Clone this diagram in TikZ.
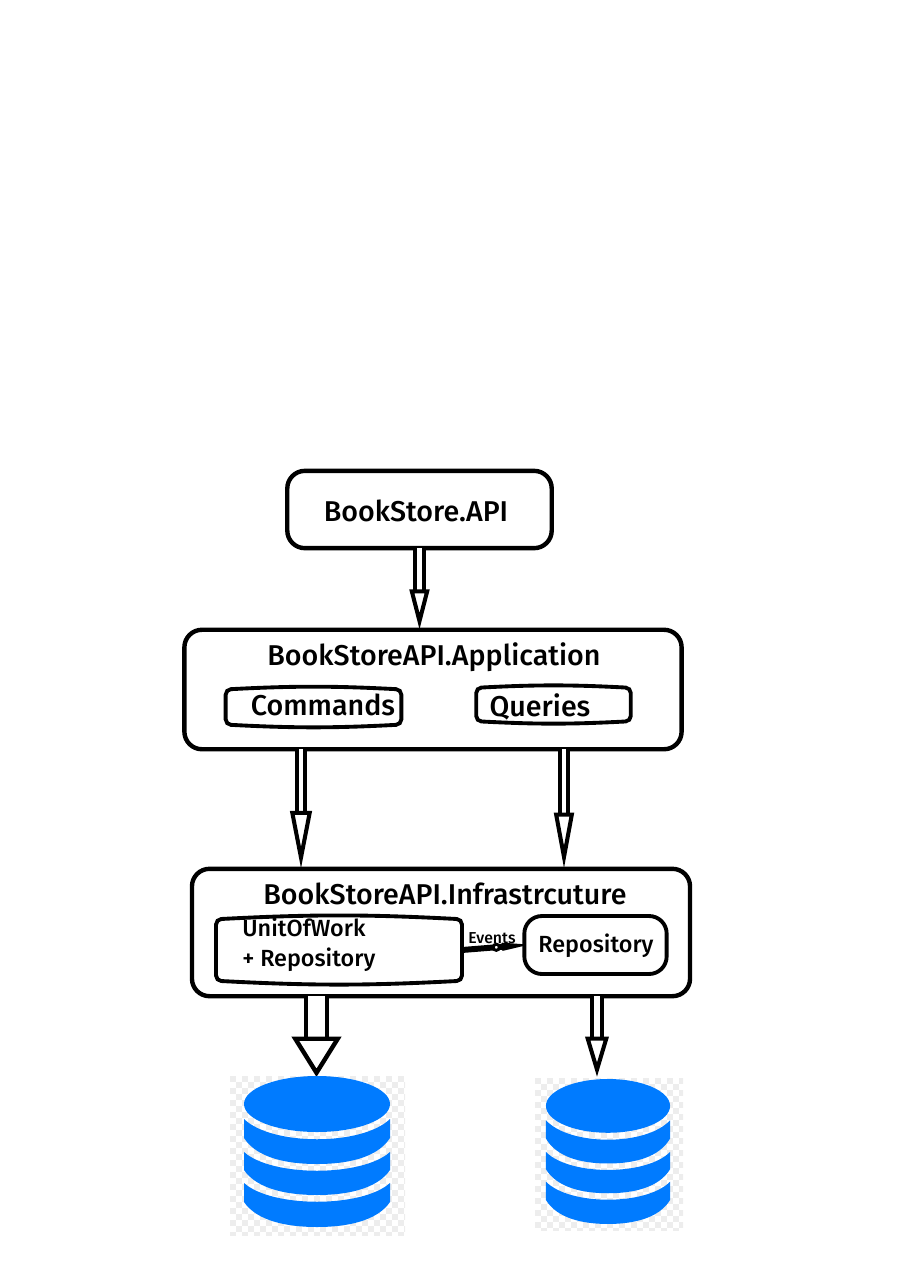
\documentclass[tikz,border=0pt]{standalone}
\usepackage{fontspec}
\setmainfont{Fira Sans Medium}
\usetikzlibrary{arrows.meta,calc}
\definecolor{dbblue}{HTML}{007BFF}
\definecolor{dbcheck}{HTML}{EDEDED}
\tikzset{
layerbox/.style={draw,rectangle,rounded corners=10pt,line width=2.5pt,outer sep=0pt},
bulgebox/.style={rectangle,outer sep=0pt,append after command={
[draw,rounded corners=3pt]
([yshift=-#1]\tikzlastnode.north west) to[bend left=3] ([yshift=-#1]\tikzlastnode.north east)
-- ([yshift=#1]\tikzlastnode.south east) to[bend left=3] ([yshift=#1]\tikzlastnode.south west) -- cycle}},
roundbox/.style={draw,rectangle,rounded corners=10pt,line width=2.2pt,outer sep=0pt},
bigtext/.style={inner sep=0pt,font=\fontsize{16.3}{18}\selectfont},
midtext/.style={inner sep=0pt,font=\fontsize{13.3}{15}\selectfont},
hollow/.style={line width=#1,double=white,double distance=#1,line cap=butt},
pics/dbicon/.style={code={
\fill[dbblue] (0,28) ellipse[x radius=73,y radius=28];
\foreach \t/\b/\m/\e in {43/62/70/88,76/94/101/119,107/126/132/151}{
\fill[dbblue] (-73,\t) .. controls (-45,\m) and (45,\m) .. (73,\t) -- (73,\b)
.. controls (60,\e-6) and (30,\e) .. (0,\e) .. controls (-30,\e) and (-60,\e-6) .. (-73,\b) -- cycle;
}
}}
}
\newcommand{\checkbg}[4]{%
\fill[white] (#1,#2) rectangle (#3,#4);
\begin{scope}
\clip (#1,#2) rectangle (#3,#4);
\foreach \i in {0,...,30}{\foreach \j in {0,...,27}{
\pgfmathparse{int(mod(\i+\j,2))}
\ifnum\pgfmathresult=0
\fill[dbcheck] ({#1+\i*6},{#2+\j*6}) rectangle ++(6,6);
\fi
}}
\end{scope}}
\begin{document}
\begin{tikzpicture}[x=.02cm,y=-.02cm]
\useasboundingbox (0,0) rectangle (916,1279);
% boxes
\draw (419.5,509.5) node[layerbox,minimum width=150.5pt,minimum height=44pt] (api) {};
\draw (433,689.5) node[layerbox,minimum width=283pt,minimum height=68pt] (app) {};
\draw (441,932.5) node[layerbox,minimum width=283.5pt,minimum height=72.5pt] (infra) {};
\draw[line width=2.2pt] (313.5,707) node[bulgebox=2pt,minimum width=100pt,minimum height=24pt] (cmd) {};
\draw[line width=2.2pt] (553.5,704.5) node[bulgebox=2pt,minimum width=88pt,minimum height=23pt] (qry) {};
\draw[line width=2.2pt] (339,950) node[bulgebox=3pt,minimum width=140pt,minimum height=41pt] (uow) {};
\draw (595.5,945) node[roundbox,minimum width=81pt,minimum height=33pt] (repo) {};
% texts
\draw (416,511) node[bigtext] (apitext) {BookStore.API};
\draw (434,657) node[bigtext] (apptext) {BookStoreAPI.Application};
\draw (445,894) node[bigtext] (infratext) {BookStoreAPI.Infrastrcuture};
\draw (323,705) node[bigtext] (cmdtext) {Commands};
\draw (540,707) node[bigtext] (qrytext) {Queries};
\draw (242,945) node[midtext,anchor=west,align=left] (uowtext) {UnitOfWork\\[2pt]+ Repository};
\draw (596,946) node[midtext] (repotext) {Repository};
\draw (492,938) node[inner sep=0pt,font=\fontsize{9}{10}\selectfont] (evtext) {Events};
% arrows
\coordinate (cmdout) at (301,0);
\coordinate (qryout) at (564,0);
\coordinate (dbaout) at (316.5,0);
\coordinate (dbbout) at (597,0);
\coordinate (dbatop) at (0,1077);
\coordinate (dbbtop) at (0,1077);
\draw[hollow=2.3pt,-{Triangle[open,fill=white,length=23pt,width=11pt,line width=2.3pt]}] (api.south) -- (api.south |- app.north);
\draw[hollow=2.3pt,-{Triangle[open,fill=white,length=33pt,width=12pt,line width=2.3pt]}] (cmdout |- app.south) -- (cmdout |- infra.north);
\draw[hollow=2.3pt,-{Triangle[open,fill=white,length=32pt,width=11pt,line width=2.3pt]}] (qryout |- app.south) -- (qryout |- infra.north);
\draw[line width=2.5pt,double=white,double distance=9.5pt,line cap=butt,-{Triangle[open,fill=white,length=23pt,width=28pt,line width=2.5pt]}] (dbaout |- infra.south) -- (dbaout |- dbatop);
\draw[line width=2.5pt,double=white,double distance=3pt,line cap=butt,-{Triangle[open,fill=white,length=23pt,width=13pt,line width=2.3pt]}] (dbbout |- infra.south) -- (dbbout |- dbbtop);
% events
\draw[line width=3.4pt,-{Triangle[length=16pt,width=4.5pt,line width=1pt,round]}] (uow.east) -- node[pos=.55,circle,draw,fill=white,line width=1.7pt,minimum size=3.5pt,inner sep=0pt] (evdot) {} (repo.west);
% databases
\checkbg{230}{1076}{405}{1235}
\checkbg{535}{1078}{683}{1230}
\draw (317,1076) pic {dbicon};
\draw (608,1079) pic[xscale=.85,yscale=.96] {dbicon};
\end{tikzpicture}
\end{document}
